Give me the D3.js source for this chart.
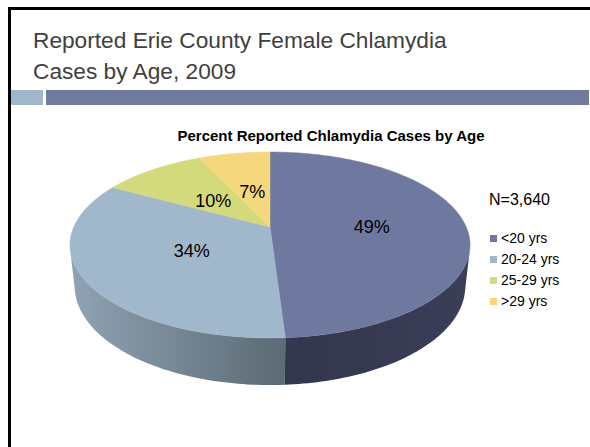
<!DOCTYPE html>
<html>
<head>
<meta charset="utf-8">
<script src="https://cdn.jsdelivr.net/npm/d3@7"></script>
<style>
  body { margin: 0; background: #fff; }
  text { font-family: "Liberation Sans", Arial, sans-serif; }
</style>
</head>
<body>
<script>
// data
var ageGroups = ["<20 yrs", "20-24 yrs", "25-29 yrs", ">29 yrs"];
var percents = [49, 34, 10, 7];
var caseCount = "N=3,640";
var slideTitle = ["Reported Erie County Female Chlamydia", "Cases by Age, 2009"];
var chartTitle = "Percent Reported Chlamydia Cases by Age";

var topColors = ["#6f79a0", "#a0b7cc", "#d3da7b", "#f5d77d"];
// side wall gradient, left -> right
var sideColors = [["#33364c", "#3a3e57"], ["#90a3b4", "#5b6a74"], ["#a9ae60", "#a9ae60"], ["#c4ab62", "#c4ab62"]];

var w = 590, h = 447;

var svg = d3.select("body").append("svg")
    .attr("width", w)
    .attr("height", h);

// slide frame
svg.append("path")
    .attr("d", "M9.5,447V8.5H590")
    .attr("fill", "none")
    .attr("stroke", "#000")
    .attr("stroke-width", 3);

svg.append("rect").attr("x", 11).attr("y", 90).attr("width", 32).attr("height", 15).attr("fill", "#9fb6cb");
svg.append("rect").attr("x", 46).attr("y", 90).attr("width", 543).attr("height", 15).attr("fill", "#717ba0");

svg.selectAll("text.title")
    .data(slideTitle)
    .enter().append("text")
    .attr("class", "title")
    .attr("x", 33)
    .attr("y", function(d, i) { return 48 + i * 31; })
    .attr("font-size", 22.7)
    .attr("fill", "#404040")
    .text(function(d) { return d; });

svg.append("text")
    .attr("x", 331)
    .attr("y", 141)
    .attr("text-anchor", "middle")
    .attr("font-size", 15)
    .attr("font-weight", "bold")
    .text(chartTitle);

// perspective projection of a unit-radius pie
var cx = 270, cy = 227,
    sinP = 0.456, cosP = Math.sqrt(1 - sinP * sinP),
    dist = 4.6, focal = 902.7, depth = 0.239;

function project(X, Y, Z) {
  var dz = dist + Y * cosP - Z * sinP;
  return [cx + focal * X / dz, cy - focal * (Y * sinP + Z * cosP) / dz];
}

function arcPoints(a0, a1, r, z) {
  var n = Math.max(2, Math.ceil(Math.abs(a1 - a0) / 0.02));
  return d3.range(n + 1).map(function(k) {
    var a = a0 + (a1 - a0) * k / n;
    return project(r * Math.sin(a), r * Math.cos(a), z);
  });
}

var line = d3.line();

var arcs = d3.pie().sort(null)(percents);

var defs = svg.append("defs");
var pie = svg.append("g");

// visible part of the side wall
var visLo = Math.acos(-1 / (dist * cosP)),
    visHi = 2 * Math.PI - visLo;

arcs.forEach(function(d, i) {
  var lo = Math.max(d.startAngle, visLo),
      hi = Math.min(d.endAngle, visHi);
  if (hi <= lo) return;
  var top = arcPoints(lo, hi, 1, 0),
      bottom = arcPoints(hi, lo, 1, -depth);
  var xs = top.map(function(p) { return p[0]; });
  var gr = defs.append("linearGradient")
      .attr("id", "side" + i)
      .attr("gradientUnits", "userSpaceOnUse")
      .attr("x1", d3.min(xs)).attr("x2", d3.max(xs))
      .attr("y1", 0).attr("y2", 0);
  gr.append("stop").attr("offset", 0).attr("stop-color", sideColors[i][0]);
  gr.append("stop").attr("offset", 1).attr("stop-color", sideColors[i][1]);
  pie.append("path")
      .attr("d", line(top.concat(bottom)) + "Z")
      .attr("fill", "url(#side" + i + ")");
});

arcs.forEach(function(d, i) {
  var pts = [project(0, 0, 0)].concat(arcPoints(d.startAngle, d.endAngle, 1, 0));
  pie.append("path")
      .attr("d", line(pts) + "Z")
      .attr("fill", topColors[i])
      .attr("stroke", topColors[i])
      .attr("stroke-width", 0.5);
});

pie.selectAll("text.pct")
    .data(arcs)
    .enter().append("text")
    .attr("class", "pct")
    .attr("transform", function(d) {
      var a = (d.startAngle + d.endAngle) / 2,
          r = d.index == 0 ? 0.52 : 0.45;
      return "translate(" + project(r * Math.sin(a), r * Math.cos(a), 0) + ")";
    })
    .attr("dy", "0.4em")
    .attr("text-anchor", "middle")
    .attr("font-size", 18)
    .text(function(d) { return d.data + "%"; });

// legend
svg.append("text")
    .attr("x", 489)
    .attr("y", 205)
    .attr("font-size", 16)
    .text(caseCount);

var legend = svg.selectAll("g.legend")
    .data(ageGroups)
    .enter().append("g")
    .attr("class", "legend")
    .attr("transform", function(d, i) { return "translate(490," + (235 + i * 21) + ")"; });

legend.append("rect")
    .attr("width", 7).attr("height", 7)
    .attr("fill", function(d, i) { return topColors[i]; });

legend.append("text")
    .attr("x", 11)
    .attr("y", 8)
    .attr("font-size", 14)
    .text(function(d) { return d; });
</script>
</body>
</html>
